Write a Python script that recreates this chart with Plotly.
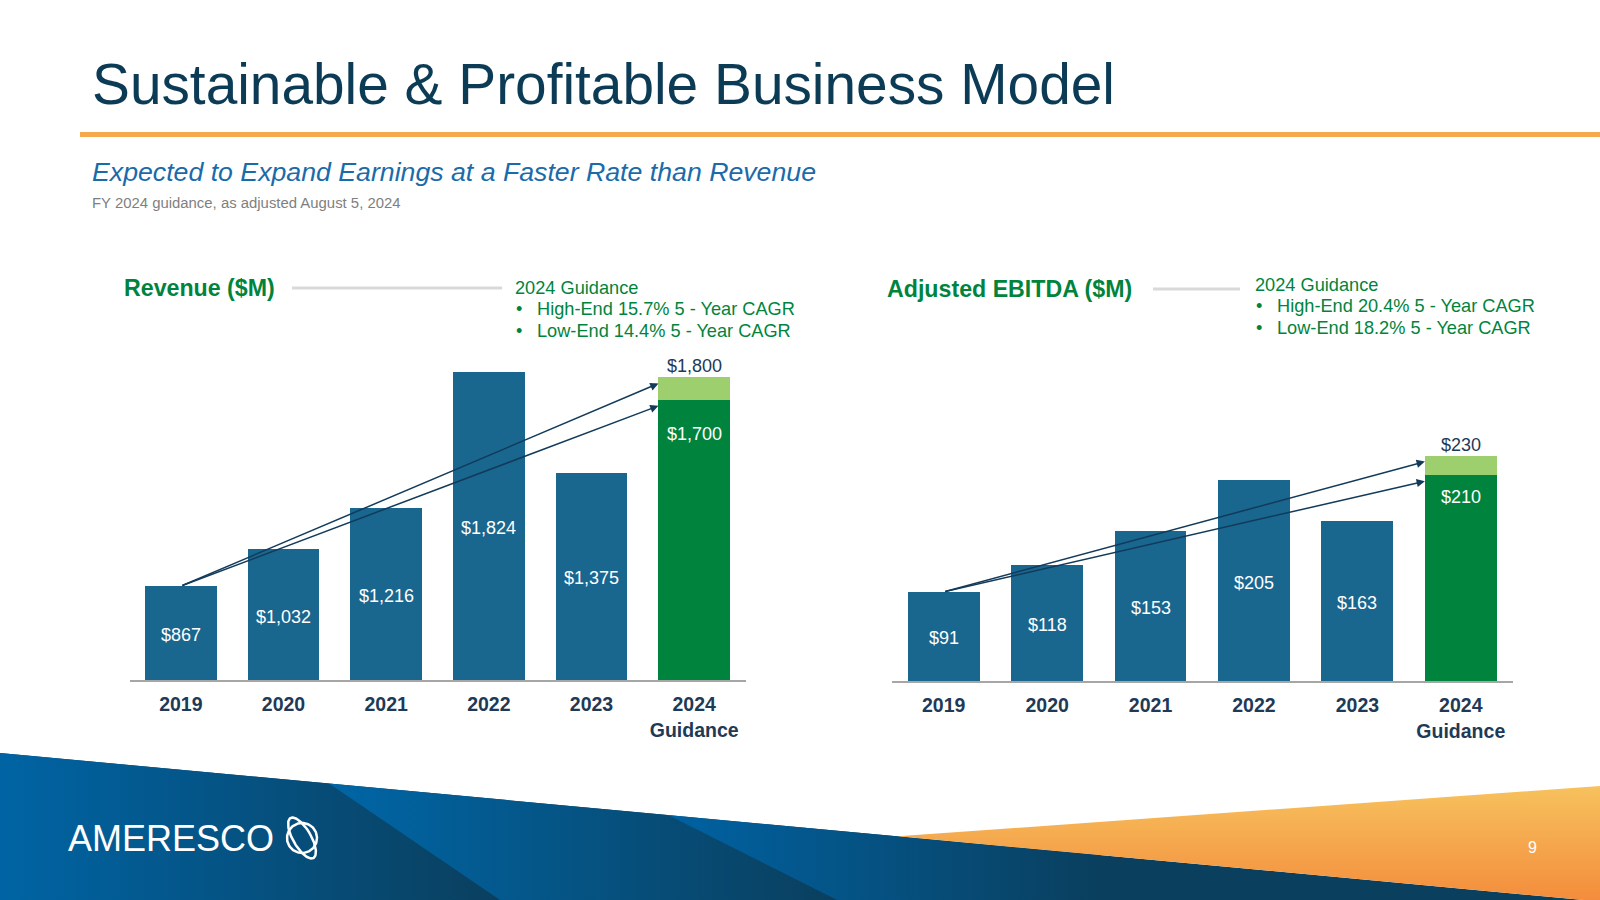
import numpy as np
import plotly.graph_objects as go

W, H = 1600, 900

# ---------------- data ----------------
years = ["2019", "2020", "2021", "2022", "2023", "2024<br>Guidance"]
revenue_actual = [867, 1032, 1216, 1824, 1375]
revenue_guidance = [1700, 1800]          # low-end, high-end
ebitda_actual = [91, 118, 153, 205, 163]
ebitda_guidance = [210, 230]             # low-end, high-end
revenue_cagr = ["High-End 15.7% 5 - Year CAGR", "Low-End 14.4% 5 - Year CAGR"]
ebitda_cagr = ["High-End 20.4% 5 - Year CAGR", "Low-End 18.2% 5 - Year CAGR"]

# ---------------- style ----------------
FONT = "Liberation Sans, Arial, sans-serif"
BLUE = "#19668F"
GREEN = "#00843D"
LGREEN = "#9DCF6F"
NAVY = "#1E3A56"
ARROW = "#123A5A"
TITLE_C = "#0C3B56"
SUB_C = "#1A6BAA"
GRAY_T = "#7F7F7F"

def fx(p):
    return p / W

def fy(p):
    return 1 - p / H

PLOT_TOP = 340
charts = [
    dict(xa="x", ya="y", x0=129.5, x1=745.5, base=680, ymin=447, ppu=0.2236,
         actual=revenue_actual, guid=revenue_guidance, low_shift=-34,
         title="Revenue ($M)", title_x=122, title_y=288, line=(292, 502, 288),
         gx=513, gy=287.5, cagr=revenue_cagr),
    dict(xa="x2", ya="y2", x0=892, x1=1512.5, base=681, ymin=0, ppu=0.98,
         actual=ebitda_actual, guid=ebitda_guidance, low_shift=-22,
         title="Adjusted EBITDA ($M)", title_x=885, title_y=289, line=(1153, 1240, 289),
         gx=1253, gy=284.5, cagr=ebitda_cagr),
]

BARGAP = 0.305
fig = go.Figure()
annotations = []
shapes = []

for i, c in enumerate(charts):
    ymax = c["ymin"] + (c["base"] - PLOT_TOP) / c["ppu"]
    c["ymax"] = ymax
    fig.add_trace(go.Bar(x=years[:5], y=c["actual"], marker_color=BLUE, marker_line_width=0,
                         xaxis=c["xa"], yaxis=c["ya"], showlegend=False, hoverinfo="skip"))
    low, high = c["guid"]
    fig.add_trace(go.Bar(x=[years[5]], y=[low], marker_color=GREEN, marker_line_width=0,
                         xaxis=c["xa"], yaxis=c["ya"], showlegend=False, hoverinfo="skip"))
    fig.add_trace(go.Bar(x=[years[5]], y=[high - low], marker_color=LGREEN, marker_line_width=0,
                         xaxis=c["xa"], yaxis=c["ya"], showlegend=False, hoverinfo="skip"))

    xref, yref = c["xa"], c["ya"]
    # value labels inside bars
    for j, v in enumerate(c["actual"]):
        annotations.append(dict(x=j, y=(c["ymin"] + v) / 2, xref=xref, yref=yref,
                                text=f"${v:,}", showarrow=False, yshift=-2,
                                font=dict(family=FONT, size=18, color="white")))
    annotations.append(dict(x=5, y=low, xref=xref, yref=yref, text=f"${low:,}",
                            showarrow=False, yshift=c["low_shift"],
                            font=dict(family=FONT, size=18, color="white")))
    annotations.append(dict(x=5, y=high, xref=xref, yref=yref, text=f"${high:,}",
                            showarrow=False, yshift=11,
                            font=dict(family=FONT, size=18, color=NAVY)))
    # CAGR arrows from 2019 top to 2024 guidance
    half = (1 - BARGAP) / 2
    drop = 6 / c["ppu"]
    for tgt in (high, low):
        annotations.append(dict(x=5 - half, y=tgt - drop, xref=xref, yref=yref,
                                ax=0, ay=c["actual"][0], axref=xref, ayref=yref,
                                text="", showarrow=True, arrowhead=2, arrowsize=1.1,
                                arrowwidth=1.5, arrowcolor=ARROW, standoff=0))
    # headers
    annotations.append(dict(x=fx(c["title_x"]), y=fy(c["title_y"]), xref="paper", yref="paper",
                            xanchor="left", yanchor="middle", showarrow=False,
                            text=f"<b>{c['title']}</b>",
                            font=dict(family=FONT, size=23.2, color=GREEN)))
    lx0, lx1, ly = c["line"]
    shapes.append(dict(type="line", xref="paper", yref="paper", x0=fx(lx0), x1=fx(lx1),
                       y0=fy(ly), y1=fy(ly), line=dict(color="#D9D9D9", width=3)))
    annotations.append(dict(x=fx(c["gx"]), y=fy(c["gy"]), xref="paper", yref="paper",
                            xanchor="left", yanchor="middle", showarrow=False,
                            text="2024 Guidance", font=dict(family=FONT, size=18.2, color=GREEN)))
    for k, t in enumerate(c["cagr"]):
        yy = c["gy"] + 21.5 * (k + 1)
        annotations.append(dict(x=fx(c["gx"] + 1), y=fy(yy), xref="paper", yref="paper",
                                xanchor="left", yanchor="middle", showarrow=False,
                                text="•", font=dict(family=FONT, size=18.2, color=GREEN)))
        annotations.append(dict(x=fx(c["gx"] + 22), y=fy(yy), xref="paper", yref="paper",
                                xanchor="left", yanchor="middle", showarrow=False,
                                text=t, font=dict(family=FONT, size=18.2, color=GREEN)))

# ---------------- background decoration (pixel axes) ----------------
def top_line(x):
    return 753 + (901.5 - 753) * x / 1600

def poly(xs, ys, c0, c1, kind="horizontal"):
    fig.add_trace(go.Scatter(x=xs + [xs[0]], y=ys + [ys[0]], mode="lines", fill="toself",
                             line=dict(width=0, color=c1),
                             fillgradient=dict(type=kind, colorscale=[[0, c0], [1, c1]]),
                             xaxis="x3", yaxis="y3", showlegend=False, hoverinfo="skip"))

DARK = "#0A3F5E"
poly([0, 1600, 1600, 0], [top_line(0), top_line(1600), 900, 900], DARK, DARK)
poly([0, 329, 500, 0], [top_line(0), top_line(329), 900, 900], "#0064A4", DARK)
poly([329, 668, 837, 500], [top_line(329), top_line(668), 900, 900], "#0066A6", DARK)
poly([668, 1100, 1100, 837], [top_line(668), top_line(1100), 900, 900], "#0062A2", DARK)
poly([898, 1600, 1600], [top_line(898), 786, top_line(1600)], "#F38C3C", "#F7C25E", "vertical")

# logo glyph
t = np.linspace(0, 2 * np.pi, 120)
cx, cy = 302, 838
fig.add_trace(go.Scatter(x=cx + 15 * np.cos(t), y=cy + 15 * np.sin(t), mode="lines",
                         line=dict(color="white", width=2.5), xaxis="x3", yaxis="y3",
                         showlegend=False, hoverinfo="skip"))
ang = np.deg2rad(-30)
ex, ey = 9 * np.cos(t), 23 * np.sin(t)
fig.add_trace(go.Scatter(x=cx + ex * np.cos(ang) - ey * np.sin(ang),
                         y=cy + ex * np.sin(ang) + ey * np.cos(ang), mode="lines",
                         line=dict(color="white", width=2.5), xaxis="x3", yaxis="y3",
                         showlegend=False, hoverinfo="skip"))

annotations += [
    dict(x=fx(171), y=fy(838), xref="paper", yref="paper", text="AMERESCO", showarrow=False,
         xanchor="center", yanchor="middle", font=dict(family=FONT, size=36, color="white")),
    dict(x=fx(1532), y=fy(847), xref="paper", yref="paper", text="9", showarrow=False,
         xanchor="center", yanchor="middle", font=dict(family=FONT, size=16, color="white")),
    dict(x=fx(90), y=fy(84), xref="paper", yref="paper", xanchor="left", yanchor="middle",
         text="Sustainable & Profitable Business Model", showarrow=False,
         font=dict(family=FONT, size=56.8, color=TITLE_C)),
    dict(x=fx(90), y=fy(171.5), xref="paper", yref="paper", xanchor="left", yanchor="middle",
         text="<i>Expected to Expand Earnings at a Faster Rate than Revenue</i>", showarrow=False,
         font=dict(family=FONT, size=26.7, color=SUB_C)),
    dict(x=fx(90), y=fy(203), xref="paper", yref="paper", xanchor="left", yanchor="middle",
         text="FY 2024 guidance, as adjusted August 5, 2024", showarrow=False,
         font=dict(family=FONT, size=14.9, color=GRAY_T)),
]
shapes.append(dict(type="rect", xref="paper", yref="paper", x0=fx(80), x1=1,
                   y0=fy(137), y1=fy(132), line=dict(width=0), fillcolor="#F5A94C"))

layout_axes = {}
for i, c in enumerate(charts):
    xk = "xaxis" if i == 0 else "xaxis2"
    yk = "yaxis" if i == 0 else "yaxis2"
    layout_axes[xk] = dict(domain=[fx(c["x0"]), fx(c["x1"])], anchor=c["ya"],
                           type="category", categoryorder="array", categoryarray=years,
                           range=[-0.5, 5.5], showline=True, linecolor="#A6A6A6", linewidth=2,
                           showgrid=False, zeroline=False, ticks="", fixedrange=True,
                           tickfont=dict(family=FONT, size=19.5, color=NAVY, weight="bold"),
                           ticklabelstandoff=6)
    layout_axes[yk] = dict(domain=[fy(c["base"]), fy(PLOT_TOP)], anchor=c["xa"],
                           range=[c["ymin"], c["ymax"]], visible=False, showgrid=False,
                           zeroline=False, fixedrange=True)
layout_axes["xaxis3"] = dict(domain=[0, 1], range=[0, W], visible=False, anchor="y3",
                             fixedrange=True)
layout_axes["yaxis3"] = dict(domain=[0, 1], range=[H, 0], visible=False, anchor="x3",
                             fixedrange=True)

fig.update_layout(width=W, height=H, margin=dict(l=0, r=0, t=0, b=0),
                  paper_bgcolor="white", plot_bgcolor="rgba(0,0,0,0)",
                  barmode="stack", bargap=BARGAP, showlegend=False,
                  annotations=annotations, shapes=shapes, font=dict(family=FONT),
                  **layout_axes)

fig.write_html("out.html", config={"displayModeBar": False},
               post_script="document.body.style.margin='0';document.body.style.overflow='hidden';")
